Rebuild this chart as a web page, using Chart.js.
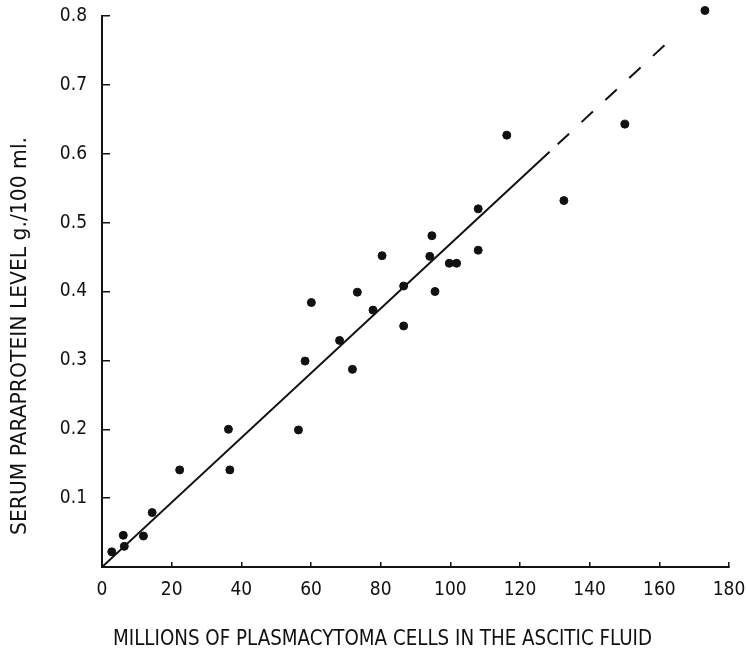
<!DOCTYPE html>
<html>
<head>
<meta charset="utf-8">
<script src="https://cdn.jsdelivr.net/npm/chart.js@4/dist/chart.umd.min.js"></script>
<style>
  html, body { margin: 0; padding: 0; background: #fff; }
  canvas { display: block; }
</style>
</head>
<body>
<canvas id="grafica" width="746" height="648"></canvas>
<script>
// millones de celulas (x) y nivel de paraproteina (y)
const cellsX = [2.8, 6.1, 6.4, 11.9, 14.4, 22.3, 36.7, 36.3, 56.4, 58.3, 60.1, 68.2, 71.9, 73.3, 77.8,
                80.4, 86.6, 86.6, 94.1, 94.7, 95.6, 99.7, 101.8, 108.0, 108.0, 116.2, 132.6, 150.1, 173.1];
const proteinY = [0.022, 0.046, 0.030, 0.045, 0.079, 0.141, 0.141, 0.200, 0.199, 0.299, 0.384, 0.329, 0.287, 0.399, 0.373,
                  0.452, 0.408, 0.350, 0.451, 0.481, 0.400, 0.441, 0.441, 0.520, 0.460, 0.627, 0.532, 0.643, 0.808];

// recta de regresion: tramo continuo y tramo extrapolado (discontinuo)
const fitSolidX = [0, 128.5];
const fitSolidY = [0, 0.603];
const fitDashX = [128.5, 161.6];
const fitDashY = [0.603, 0.758];

const xTicks = [0, 20, 40, 60, 80, 100, 120, 140, 160, 180];
const yTicks = [0, 0.1, 0.2, 0.3, 0.4, 0.5, 0.6, 0.7, 0.8];

const xTitle = 'MILLIONS OF PLASMACYTOMA CELLS IN THE ASCITIC FLUID';
const yTitle = 'SERUM PARAPROTEIN LEVEL g./100 ml.';

const FONT = '"DejaVu Sans Condensed", "Liberation Sans Narrow", sans-serif';
const INK = '#111';

const toPoints = (xs, ys) => xs.map((x, i) => ({ x: x, y: ys[i] }));

function fitText(ctx, text, cx, cy, width) { // escala el texto al ancho medido en la imagen
  const w = ctx.measureText(text).width;
  ctx.save();
  ctx.translate(cx, cy);
  ctx.scale(width / w, 1);
  ctx.fillText(text, 0, 0);
  ctx.restore();
}

const axisTitles = {
  id: 'axisTitles',
  afterDraw(chart) {
    const ctx = chart.ctx;
    ctx.save();
    ctx.fillStyle = INK;
    ctx.font = '21px ' + FONT;
    ctx.textAlign = 'center';
    ctx.textBaseline = 'alphabetic';
    fitText(ctx, xTitle, 382.5, 645, 539);
    ctx.translate(26, 336);
    ctx.rotate(-Math.PI / 2);
    fitText(ctx, yTitle, 0, 0, 398);
    ctx.restore();
  }
};

const graphic = document.getElementById('grafica');
const chart = new Chart(graphic, {
  type: 'scatter',
  data: {
    datasets: [
      {
        data: toPoints(cellsX, proteinY),
        backgroundColor: INK,
        borderColor: INK,
        borderWidth: 1,
        pointRadius: 4,
        pointHoverRadius: 9, // deja dibujar el punto que sobresale por arriba del eje
        clip: false
      },
      {
        type: 'line',
        data: toPoints(fitSolidX, fitSolidY),
        borderColor: INK,
        borderWidth: 2,
        pointRadius: 0,
        fill: false
      },
      {
        type: 'line',
        data: toPoints(fitDashX, fitDashY),
        borderColor: INK,
        borderWidth: 2,
        borderDash: [15.5, 17],
        borderDashOffset: 21.5,
        pointRadius: 0,
        fill: false
      }
    ]
  },
  options: {
    responsive: false,
    animation: false,
    events: [],
    devicePixelRatio: 1,
    layout: { autoPadding: false, padding: { top: 16, right: 17, left: 0, bottom: 0 } },
    plugins: { legend: { display: false }, tooltip: { enabled: false } },
    scales: {
      x: {
        type: 'linear',
        min: 0,
        max: 180,
        afterBuildTicks: s => { s.ticks = xTicks.map(v => ({ value: v })); },
        afterFit: s => { s.height = 81; s.paddingLeft = 0; s.paddingRight = 0; },
        grid: { drawOnChartArea: false, color: INK, lineWidth: 1.5, tickLength: -5 },
        border: { color: INK, width: 2 },
        ticks: { color: INK, padding: 17, maxRotation: 0, font: { family: FONT, size: 19 } }
      },
      y: {
        type: 'linear',
        min: 0,
        max: 0.8,
        afterBuildTicks: s => { s.ticks = yTicks.map(v => ({ value: v })); },
        afterFit: s => { s.width = 102; s.paddingTop = 0; s.paddingBottom = 0; },
        grid: { drawOnChartArea: false, color: INK, lineWidth: 1.5, tickLength: -8 },
        border: { color: INK, width: 2 },
        ticks: {
          color: INK,
          padding: 23,
          font: { family: FONT, size: 19 },
          callback: v => v === 0 ? '' : v.toFixed(1)
        }
      }
    }
  },
  plugins: [axisTitles]
});
</script>
</body>
</html>
